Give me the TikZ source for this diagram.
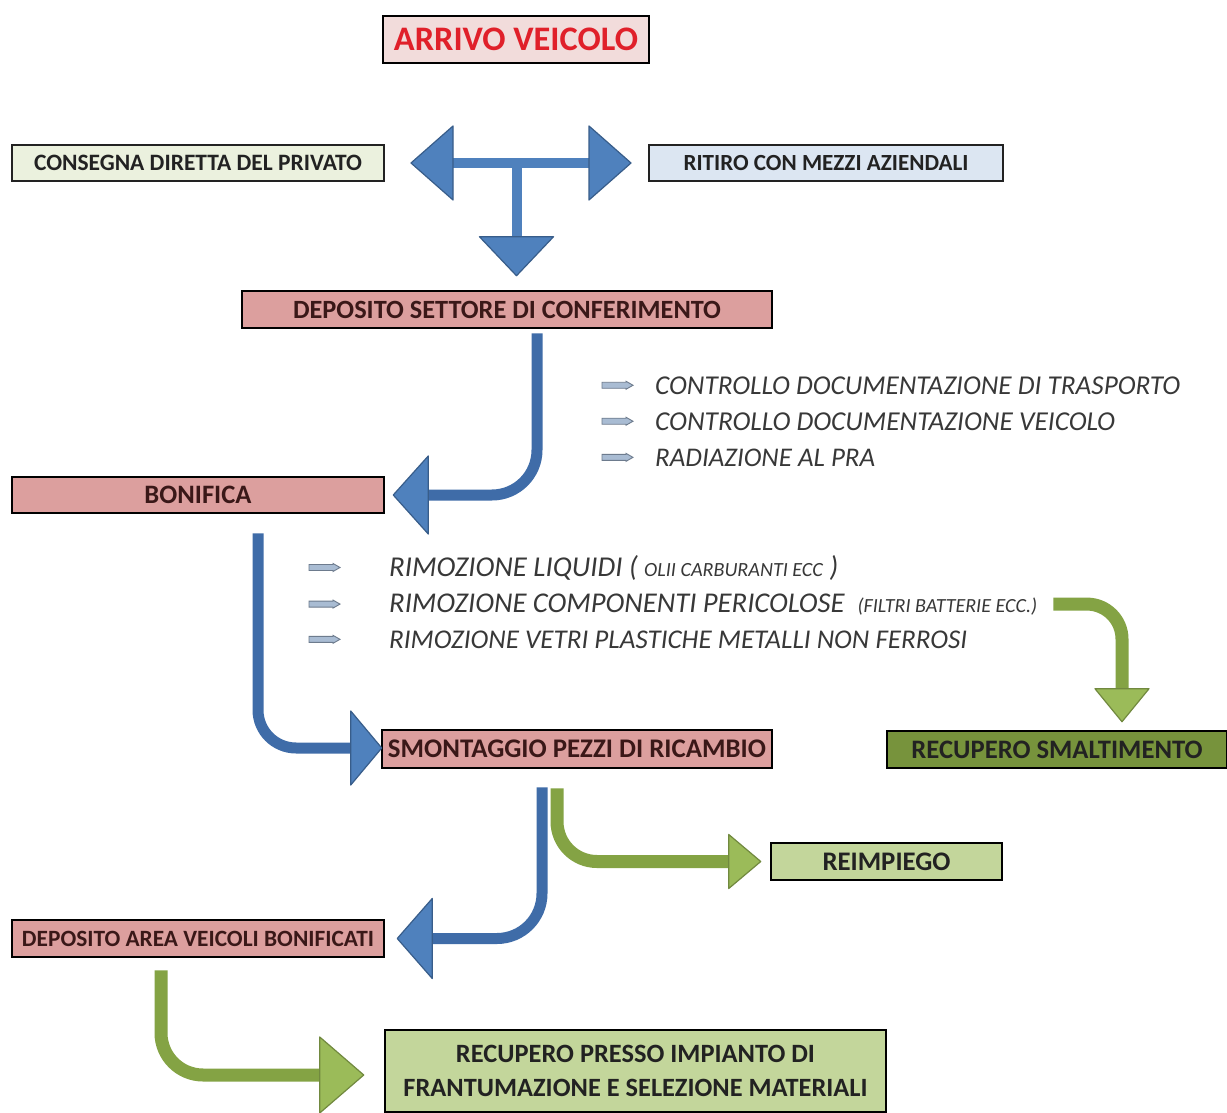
\documentclass[tikz,border=0pt]{standalone}
\usepackage{fontspec}
\setmainfont{Carlito}
\usepackage{graphicx}
\usetikzlibrary{calc}
\definecolor{pinkA}{HTML}{F2DCDB}
\definecolor{pinkB}{HTML}{DC9F9E}
\definecolor{creamG}{HTML}{EBF1DE}
\definecolor{lblue}{HTML}{DCE6F2}
\definecolor{olive}{HTML}{77933C}
\definecolor{lgreen}{HTML}{C3D69B}
\definecolor{bfill}{HTML}{4F81BD}
\definecolor{bedge}{HTML}{385D8A}
\definecolor{bshaftc}{HTML}{3F6CA8}
\definecolor{gfill}{HTML}{9BBB59}
\definecolor{gedge}{HTML}{71893F}
\definecolor{gshaftc}{HTML}{84A344}
\definecolor{txt}{HTML}{222222}
\definecolor{ptxt}{HTML}{3A1818}
\definecolor{ltxt}{HTML}{383838}
\definecolor{redT}{HTML}{E0202A}
\definecolor{bullf}{HTML}{A9BCD3}
\definecolor{bulle}{HTML}{6D7B8D}
\newcommand\fitw[2]{\resizebox{#1}{!}{#2}}
\newcommand\bularrow[1]{\filldraw[bullet] (#1) ++(0,-3) -- ++(24,0) -- ++(0,-1) -- ++(7,4) -- ++(-7,4) -- ++(0,-1) -- ++(-24,0) -- cycle;}
\begin{document}
\begin{tikzpicture}[x=1pt,y=-1pt,
  box/.style={draw=black, line width=2.5pt, inner sep=0pt, text=txt, font=\bfseries\fontsize{20}{34}\selectfont},
  pbox/.style={box, fill=pinkB, text=ptxt},
  lst/.style={anchor=base west, inner sep=0pt, text=ltxt, font=\itshape\fontsize{20}{24}\selectfont},
  bshaft/.style={draw=bshaftc, line width=11pt},
  gshaft/.style={draw=gshaftc, line width=13pt},
  bhead/.style={fill=bfill, draw=bedge, line width=1.2pt, line join=round},
  ghead/.style={fill=gfill, draw=gedge, line width=1.2pt, line join=round},
  bullet/.style={fill=bullf, draw=bulle, line width=0.9pt}]
\useasboundingbox (0,0) rectangle (1227,1113);
\fill[white] (0,0) rectangle (1227,1113);

% boxes
\node[box, fill=pinkA, text=redT, minimum width=266pt, minimum height=47pt] (arr) at (516,39.5) {\fitw{244pt}{ARRIVO VEICOLO}};
\node[box, fill=creamG, draw=txt, line width=2pt, minimum width=372pt, minimum height=36pt] (cons) at (198,163) {\fitw{328pt}{CONSEGNA DIRETTA DEL PRIVATO}};
\node[box, fill=lblue, draw=txt, line width=2pt, minimum width=354pt, minimum height=36pt] (rit) at (826,163) {\fitw{285pt}{RITIRO CON MEZZI AZIENDALI}};
\node[pbox, minimum width=530pt, minimum height=37pt] (dep) at (507,309.5) {\fitw{428pt}{DEPOSITO SETTORE DI CONFERIMENTO}};
\node[pbox, minimum width=372pt, minimum height=36pt] (bon) at (198,495) {\fitw{107pt}{BONIFICA}};
\node[pbox, minimum width=390pt, minimum height=38pt] (smo) at (577,749) {\fitw{378pt}{SMONTAGGIO PEZZI DI RICAMBIO}};
\node[box, fill=olive, minimum width=340pt, minimum height=37pt] (rsm) at (1057,749.5) {\fitw{291pt}{RECUPERO SMALTIMENTO}};
\node[box, fill=lgreen, minimum width=231pt, minimum height=37pt] (rei) at (886.5,861.5) {\fitw{128pt}{REIMPIEGO}};
\node[pbox, minimum width=372pt, minimum height=37pt] (dav) at (198,938.5) {\fitw{352pt}{DEPOSITO AREA VEICOLI BONIFICATI}};
\node[box, fill=lgreen, minimum width=501pt, minimum height=82pt, align=center] (rpi) at (635.5,1071) {\fitw{359pt}{RECUPERO PRESSO IMPIANTO DI}\\\fitw{464pt}{FRANTUMAZIONE E SELEZIONE MATERIALI}};

% lists
\node[lst] (l1) at (655,394) {\fitw{525pt}{CONTROLLO DOCUMENTAZIONE DI TRASPORTO}};
\node[lst] (l2) at (655,430) {\fitw{460pt}{CONTROLLO DOCUMENTAZIONE VEICOLO}};
\node[lst] (l3) at (655,466) {\fitw{220pt}{RADIAZIONE AL PRA}};
\node[lst] (m1) at (389,576) {\fitw{449pt}{RIMOZIONE LIQUIDI ( {\fontsize{14}{16}\selectfont OLII CARBURANTI ECC} )}};
\node[lst] (m2) at (389,612) {\fitw{648pt}{RIMOZIONE COMPONENTI PERICOLOSE\ \ {\fontsize{14}{16}\selectfont (FILTRI BATTERIE ECC.)}}};
\node[lst] (m3) at (389,648) {\fitw{578pt}{RIMOZIONE VETRI PLASTICHE METALLI NON FERROSI}};
\bularrow{$(l1.west)+(-53,0)$}
\bularrow{$(l2.west)+(-53,0)$}
\bularrow{$(l3.west)+(-53,0)$}
\bularrow{$(m1.west)+(-80,0)$}
\bularrow{$(m2.west)+(-80,0)$}
\bularrow{$(m3.west)+(-80,0)$}

% T arrow
\coordinate (tee) at ($(cons.east)!0.5!(rit.west)$);
\coordinate (tl) at ($(cons.east)+(26,0)$);
\coordinate (tr) at ($(rit.west)+(-17,0)$);
\coordinate (td) at ($(tee |- dep.north)+(0,-14)$);
\draw[draw=bfill, line width=10pt] ($(tl)+(40,0)$) -- ($(tr)+(-40,0)$);
\draw[draw=bfill, line width=10pt] (tee) -- ($(td)+(0,-36)$);
\filldraw[bhead] (tl) -- ++(42,-37) -- ++(0,74) -- cycle;
\filldraw[bhead] (tr) -- ++(-42,-37) -- ++(0,74) -- cycle;
\filldraw[bhead] (td) -- ++(-37,-39) -- ++(74,0) -- cycle;

% dep -> bon
\coordinate (b1) at ($(bon.east)+(8,0)$);
\draw[bshaft, rounded corners=45pt] ($(dep.south)+(30,4)$) |- ($(b1)+(33,0)$);
\filldraw[bhead] (b1) -- ++(35,-39) -- ++(0,78) -- cycle;

% bon -> smo
\coordinate (b2) at ($(smo.west)+(1,-1)$);
\draw[bshaft, rounded corners=38pt] ($(bon.south)+(60,19)$) |- ($(b2)+(-29,0)$);
\filldraw[bhead] (b2) -- ++(-31,-37) -- ++(0,74) -- cycle;

% smo -> dav
\coordinate (b3) at ($(dav.east)+(12,0)$);
\draw[bshaft, rounded corners=45pt] ($(smo.south)+(-35,18)$) |- ($(b3)+(33,0)$);
\filldraw[bhead] (b3) -- ++(35,-40) -- ++(0,80) -- cycle;

% smo -> rei
\coordinate (g1) at ($(rei.west)+(-9,0)$);
\draw[gshaft, rounded corners=40pt] ($(smo.south)+(-20,19)$) |- ($(g1)+(-30,0)$);
\filldraw[ghead] (g1) -- ++(-32,-27) -- ++(0,54) -- cycle;

% m2 -> rsm
\coordinate (gs) at ($(m2.east)+(16,0)$);
\coordinate (g2) at ($(rsm.north)+(65,-8)$);
\draw[gshaft, rounded corners=35pt] (gs) -| ($(g2)+(0,-31)$);
\filldraw[ghead] (g2) -- ++(-27,-33) -- ++(54,0) -- cycle;

% dav -> rpi
\coordinate (g3) at ($(rpi.west)+(-20,4)$);
\draw[gshaft, rounded corners=42pt] ($(dav.south)+(-37,12)$) |- ($(g3)+(-42,0)$);
\filldraw[ghead] (g3) -- ++(-44,-38) -- ++(0,76) -- cycle;
\end{tikzpicture}
\end{document}
